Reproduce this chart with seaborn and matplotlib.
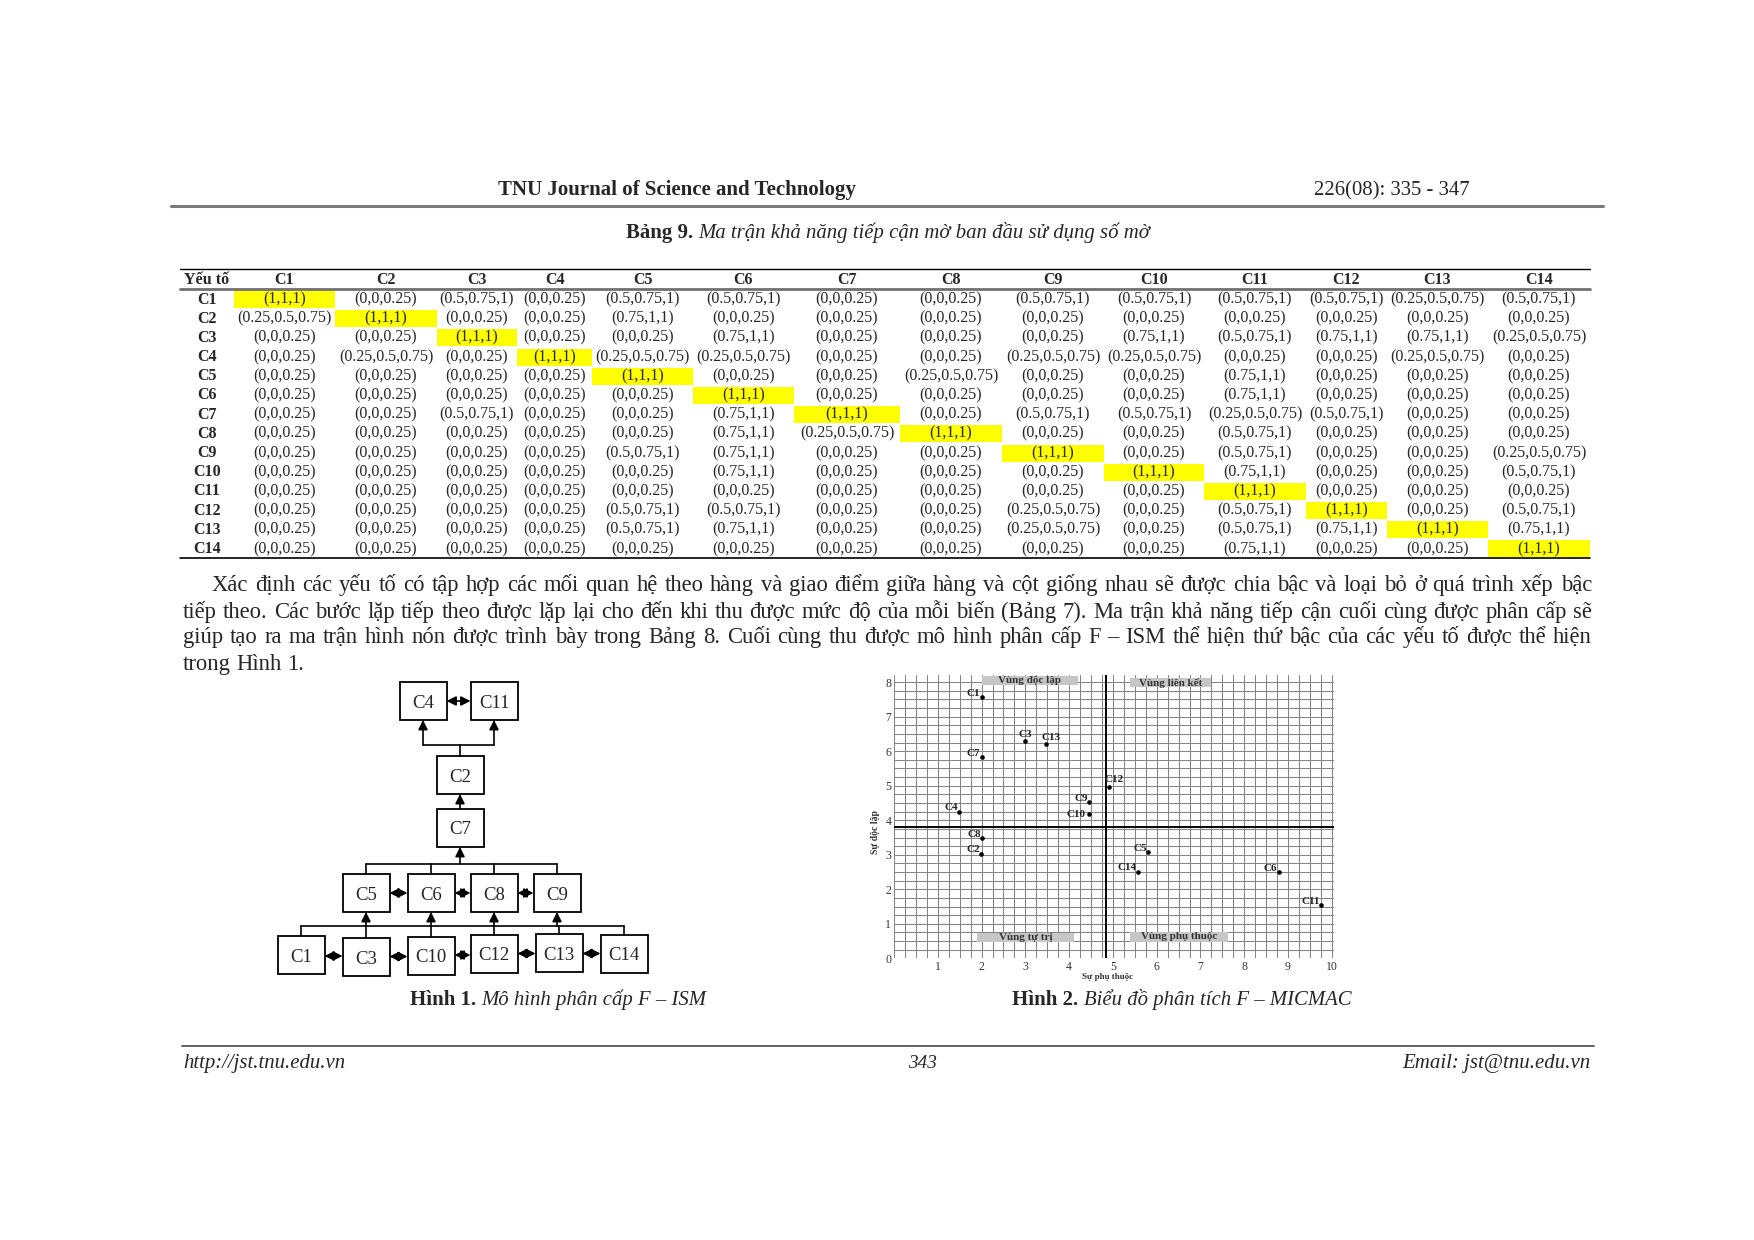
import numpy as np
import pandas as pd
import matplotlib
matplotlib.use("Agg")
import matplotlib.pyplot as plt
from matplotlib.patches import Rectangle
import seaborn as sns

# ---- data ----
factors = [f"C{i}" for i in range(1, 15)]

# fuzzy numbers used in Bảng 9, referenced by index in the matrix below
fuzzy_labels = ["(0,0,0.25)", "(0.25,0.5,0.75)", "(0.5,0.75,1)", "(0.75,1,1)", "(1,1,1)"]

reach_matrix = [
    [4, 0, 2, 0, 2, 2, 0, 0, 2, 2, 2, 2, 1, 2],
    [1, 4, 0, 0, 3, 0, 0, 0, 0, 0, 0, 0, 0, 0],
    [0, 0, 4, 0, 0, 3, 0, 0, 0, 3, 2, 3, 3, 1],
    [0, 1, 0, 4, 1, 1, 0, 0, 1, 1, 0, 0, 1, 0],
    [0, 0, 0, 0, 4, 0, 0, 1, 0, 0, 3, 0, 0, 0],
    [0, 0, 0, 0, 0, 4, 0, 0, 0, 0, 3, 0, 0, 0],
    [0, 0, 2, 0, 0, 3, 4, 0, 2, 2, 1, 2, 0, 0],
    [0, 0, 0, 0, 0, 3, 1, 4, 0, 0, 2, 0, 0, 0],
    [0, 0, 0, 0, 2, 3, 0, 0, 4, 0, 2, 0, 0, 1],
    [0, 0, 0, 0, 0, 3, 0, 0, 0, 4, 3, 0, 0, 2],
    [0, 0, 0, 0, 0, 0, 0, 0, 0, 0, 4, 0, 0, 0],
    [0, 0, 0, 0, 2, 2, 0, 0, 1, 0, 2, 4, 0, 2],
    [0, 0, 0, 0, 2, 3, 0, 0, 1, 0, 2, 3, 4, 3],
    [0, 0, 0, 0, 0, 0, 0, 0, 0, 0, 3, 0, 0, 4],
]

# MICMAC: dependence power (x) and driving power (y)
dependence = [2.0, 1.99, 3.0, 1.49, 5.8, 8.79, 2.0, 2.02, 4.46, 4.46, 9.76, 4.9, 3.47, 5.57]
driving = [7.56, 3.03, 6.3, 4.25, 3.07, 2.49, 5.82, 3.48, 4.52, 4.18, 1.53, 4.97, 6.2, 2.51]
dep_cut = 4.85
drv_cut = 3.8

paragraph = [
    "Xác định các yếu tố có tập hợp các mối quan hệ theo hàng và giao điểm giữa hàng và cột giống nhau sẽ được chia bậc và loại bỏ ở quá trình xếp bậc",
    "tiếp theo. Các bước lặp tiếp theo được lặp lại cho đến khi thu được mức độ của mỗi biến (Bảng 7). Ma trận khả năng tiếp cận cuối cùng được phân cấp sẽ",
    "giúp tạo ra ma trận hình nón được trình bày trong Bảng 8. Cuối cùng thu được mô hình phân cấp F – ISM thể hiện thứ bậc của các yếu tố được thể hiện",
    "trong Hình 1.",
]

# ---- style ----
sns.set_style("white")
SERIF = ["Liberation Serif", "DejaVu Serif"]
plt.rcParams["font.family"] = SERIF

W, H = 1754, 1240
fig = plt.figure(figsize=(W / 100, H / 100), dpi=100)
fig.patch.set_facecolor("white")
page = fig.add_axes([0, 0, 1, 1])
page.set_xlim(0, W)
page.set_ylim(H, 0)
page.axis("off")
renderer = fig.canvas.get_renderer()


def width_of(t):
    return t.get_window_extent(renderer).width


def fit_text(s, x, y, width, ha="left", **kw):
    t = page.text(x, y, s, fontsize=10, ha=ha, va="baseline", **kw)
    t.set_fontsize(10 * width / width_of(t))
    return t


def mixed_caption(parts, cx, y, width):
    # parts: list of (text, kwargs); fitted to width, centred on cx
    objs = [page.text(0, y, s, fontsize=10, va="baseline", **kw) for s, kw in parts]
    total = sum(width_of(o) for o in objs)
    fs = 10 * width / total
    x = cx - width / 2
    for o in objs:
        o.set_fontsize(fs)
        o.set_x(x)
        x += width_of(o)


# ---- header / footer ----
fit_text("TNU Journal of Science and Technology", 677, 195, 358, ha="center", fontweight="bold")
fit_text("226(08): 335 - 347", 1314, 195, 156)
page.plot([171, 1603], [206, 206], color="#7a7a7a", lw=2.2)

page.plot([182, 1594], [1046, 1046], color="#555555", lw=1.3)
fit_text("http://jst.tnu.edu.vn", 183, 1068, 163, fontstyle="italic")
fit_text("343", 922, 1068, 29, ha="center", fontstyle="italic")
fit_text("Email: jst@tnu.edu.vn", 1590, 1068, 188, ha="right", fontstyle="italic")

# ---- table caption and table ----
mixed_caption([("Bảng 9. ", {"fontweight": "bold"}),
               ("Ma trận khả năng tiếp cận mờ ban đầu sử dụng số mờ", {"fontstyle": "italic"})],
              888, 238, 524)

col_edges = [234, 335, 437, 517, 592, 693, 794, 900, 1002, 1104, 1204, 1306, 1387, 1488, 1590]
col_mid = [(a + b) / 2 for a, b in zip(col_edges[:-1], col_edges[1:])]
row0, row_step = 299.5, 19.19
tfs = 11.5
page.plot([180, 1590], [269, 269], color="black", lw=1.0)
page.plot([180, 1590], [288.5, 288.5], color="#707070", lw=2.0)
page.plot([180, 1590], [558, 558], color="black", lw=1.2)
page.text(207, 279.5 + 4, "Yếu tố", ha="center", va="baseline", fontsize=tfs, fontweight="bold")
for j, name in enumerate(factors):
    page.text(col_mid[j], 279.5 + 4, name, ha="center", va="baseline", fontsize=tfs, fontweight="bold")
for i, name in enumerate(factors):
    yc = row0 + i * row_step
    page.text(207, yc + 4, name, ha="center", va="baseline", fontsize=tfs, fontweight="bold")
    for j, code in enumerate(reach_matrix[i]):
        if i == j:
            page.add_patch(Rectangle((col_edges[j], yc - 8.5), col_edges[j + 1] - col_edges[j], 17,
                                     facecolor="#ffff00", edgecolor="none", zorder=0))
        page.text(col_mid[j], yc + 4, fuzzy_labels[code], ha="center", va="baseline", fontsize=tfs)

# ---- justified paragraph ----
line_y = [591, 618, 643, 670]
line_x0 = [212, 183, 183, 183]
line_x1 = 1592
probe = [page.text(0, 0, s, fontsize=10) for s in paragraph[:3]]
pfs = 10 * min((line_x1 - x0) / width_of(p) for p, x0 in zip(probe, line_x0)) * 0.985
for p in probe:
    p.remove()
for k, line in enumerate(paragraph):
    words = line.split(" ")
    objs = [page.text(0, line_y[k], w_, fontsize=pfs, va="baseline") for w_ in words]
    widths = [width_of(o) for o in objs]
    if k < len(paragraph) - 1:
        gap = (line_x1 - line_x0[k] - sum(widths)) / (len(words) - 1)
    else:
        gap = pfs * 0.25 / 0.72
    x = line_x0[k]
    for o, w_ in zip(objs, widths):
        o.set_x(x)
        x += w_ + gap

# ---- Hình 1: F-ISM hierarchy ----
boxes = {
    "C4": (423, 701), "C11": (494, 701),
    "C2": (460, 775), "C7": (460, 828),
    "C5": (366, 893), "C6": (431, 893), "C8": (494, 893), "C9": (557, 893),
    "C1": (301, 955), "C3": (366, 957), "C10": (431, 956), "C12": (494, 954),
    "C13": (559, 953), "C14": (624, 954),
}
BW, BH = 47, 38
for name, (cx, cy) in boxes.items():
    page.add_patch(Rectangle((cx - BW / 2, cy - BH / 2), BW, BH, fill=False, ec="black", lw=1.3))
    page.text(cx, cy + 6.5, name, ha="center", va="baseline", fontsize=13.5)


def arrow(x0, y0, x1, y1, style="-|>"):
    page.annotate("", xy=(x1, y1), xytext=(x0, y0),
                  arrowprops=dict(arrowstyle=style, color="black", lw=1.2,
                                  mutation_scale=14, shrinkA=0, shrinkB=0))


def hline(x0, x1, y):
    page.plot([x0, x1], [y, y], color="black", lw=1.2)


def vline(x, y0, y1):
    page.plot([x, x], [y0, y1], color="black", lw=1.2)


def link(a, b):
    (xa, ya), (xb, yb) = boxes[a], boxes[b]
    y = (ya + yb) / 2
    arrow(xa + BW / 2, y, xb - BW / 2, y, "<|-|>")


# top level
link("C4", "C11")
vline(460, boxes["C2"][1] - BH / 2, 745)
hline(boxes["C4"][0], boxes["C11"][0], 745)
for n in ["C4", "C11"]:
    arrow(boxes[n][0], 745, boxes[n][0], boxes[n][1] + BH / 2)
arrow(460, boxes["C7"][1] - BH / 2, 460, boxes["C2"][1] + BH / 2)

# middle level
mid = ["C5", "C6", "C8", "C9"]
hline(boxes["C5"][0], boxes["C9"][0], 864)
for n in mid:
    vline(boxes[n][0], 864, boxes[n][1] - BH / 2)
arrow(460, 864, 460, boxes["C7"][1] + BH / 2)
for a, b in zip(mid[:-1], mid[1:]):
    link(a, b)

# bottom level
low = ["C1", "C3", "C10", "C12", "C13", "C14"]
hline(boxes["C1"][0], boxes["C14"][0], 926)
for n in low:
    vline(boxes[n][0], 926, boxes[n][1] - BH / 2)
for n in mid:
    arrow(boxes[n][0], 926, boxes[n][0], boxes[n][1] + BH / 2)
for a, b in zip(low[:-1], low[1:]):
    link(a, b)

mixed_caption([("Hình 1. ", {"fontweight": "bold"}),
               ("Mô hình phân cấp F – ISM", {"fontstyle": "italic"})], 558, 1005, 297)
mixed_caption([("Hình 2. ", {"fontweight": "bold"}),
               ("Biểu đồ phân tích F – MICMAC", {"fontstyle": "italic"})], 1182, 1005, 339)

# ---- Hình 2: F-MICMAC scatter ----
ax = fig.add_axes([894 / W, (H - 958.3) / H, 440 / W, 283 / H])
df = pd.DataFrame({"factor": factors, "dependence": dependence, "driving": driving})
sns.scatterplot(data=df, x="dependence", y="driving", color="black", s=11,
                linewidth=0, ax=ax, zorder=6)
ax.set_xlim(0, 10.05)
ax.set_ylim(0, 8.2)
ax.set_xticks(range(1, 11))
ax.set_yticks(range(0, 9))
ax.set_xticks(np.arange(0, 10.01, 0.25), minor=True)
ax.set_yticks(np.arange(0, 8.21, 0.25), minor=True)
ax.grid(which="both", color="#858585", lw=0.75)
ax.set_axisbelow(True)
ax.tick_params(which="both", length=0, labelsize=8.5, colors="#333333", pad=2)
for s in ax.spines.values():
    s.set_visible(False)
ax.set_xlabel("")
ax.set_ylabel("")
ax.axvline(dep_cut, color="black", lw=1.4, zorder=4)
ax.axhline(drv_cut, color="black", lw=1.4, zorder=4)

label_style = {"C3": ("center", "bottom", (0, 1.5)),
               "C13": ("left", "bottom", (-3, 2)),
               "C12": ("left", "bottom", (-3, 2)),
               "C10": ("right", "center", (-2.5, 0))}
for name, x, y in zip(factors, dependence, driving):
    ha, va, off = label_style.get(name, ("right", "bottom", (-1, -0.5)))
    ax.annotate(name, (x, y), xytext=off, textcoords="offset points", ha=ha, va=va,
                fontsize=8, fontweight="bold", color="#222222", zorder=7)

zones = [("Vùng độc lập", 2.0, 4.2, 7.92, 8.18),
         ("Vùng liên kết", 5.39, 7.24, 7.85, 8.12),
         ("Vùng tự trị", 1.9, 4.11, 0.46, 0.74),
         ("Vùng phụ thuộc", 5.39, 7.64, 0.48, 0.77)]
for text, x0, x1, y0, y1 in zones:
    ax.add_patch(Rectangle((x0, y0), x1 - x0, y1 - y0, facecolor="#c6c6c6", edgecolor="none", zorder=5))
    ax.text((x0 + x1) / 2, (y0 + y1) / 2, text, ha="center", va="center", fontsize=8,
            fontweight="bold", color="#333333", zorder=6)

ax.text(0.486, -0.066, "Sự phụ thuộc", transform=ax.transAxes, ha="center", va="center",
        fontsize=6.5, fontweight="bold", color="#333333")
ax.text(-0.043, 0.445, "Sự độc lập", transform=ax.transAxes, ha="center", va="center",
        rotation=90, fontsize=7, fontweight="bold", color="#333333")

fig.savefig("out.png", dpi=100)
